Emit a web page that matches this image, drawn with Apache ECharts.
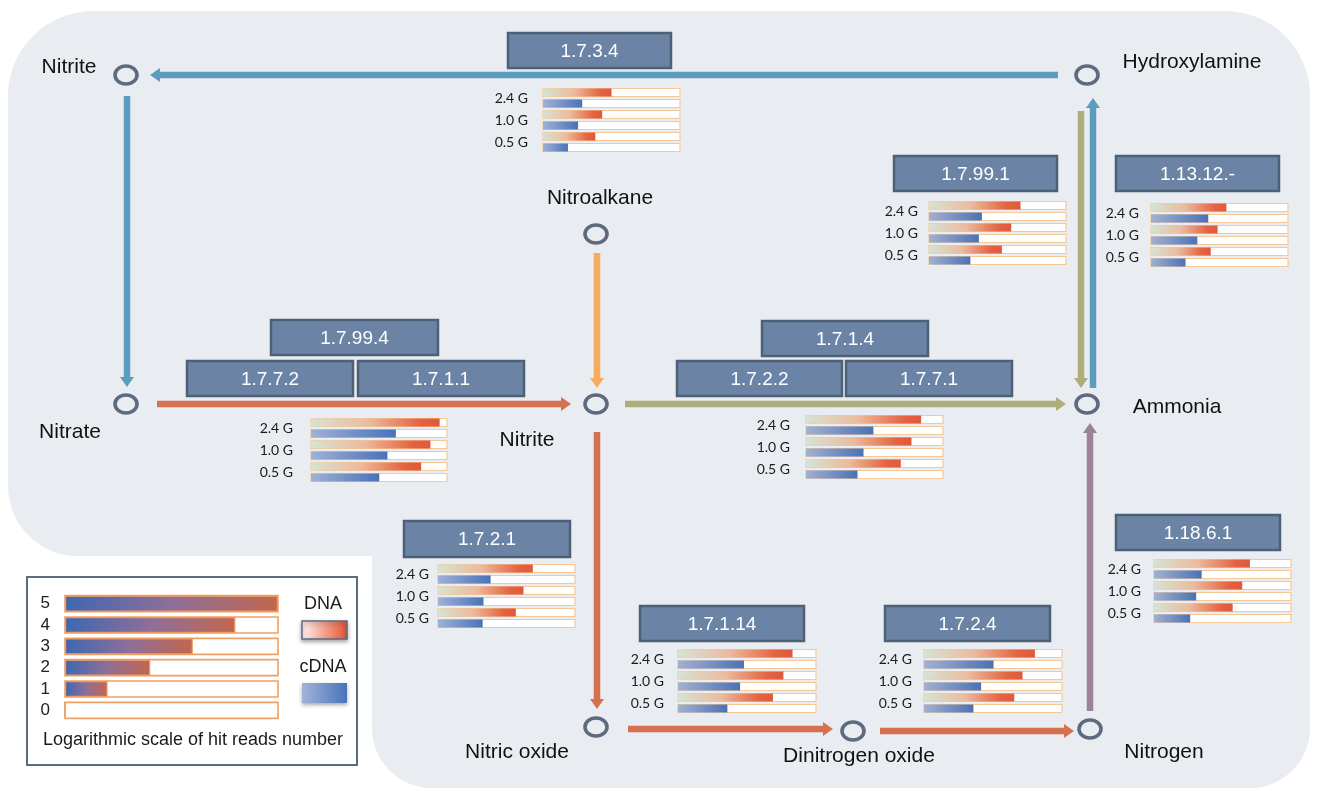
<!DOCTYPE html>
<html>
<head>
<meta charset="utf-8">
<script src="https://cdn.jsdelivr.net/npm/echarts@6/dist/echarts.min.js"></script>
<style>
html,body{margin:0;padding:0;background:#fff;}
#chart{width:1318px;height:789px;}
</style>
</head>
<body>
<div id="chart"></div>
<script>
// ---- data ----
const rowLabels = ['2.4 G', '1.0 G', '0.5 G'];
// 1.7.3.4  Hydroxylamine -> Nitrite
const dna_1_7_3_4 = [2.50, 2.16, 1.91];
const cdna_1_7_3_4 = [1.43, 1.28, 0.91];
// 1.7.99.4 / 1.7.7.2 / 1.7.1.1  Nitrate -> Nitrite
const dna_nitrate = [4.73, 4.39, 4.05];
const cdna_nitrate = [3.12, 2.81, 2.51];
// 1.7.1.4 / 1.7.2.2 / 1.7.7.1  Nitrite -> Ammonia
const dna_ammonia = [4.20, 3.85, 3.46];
const cdna_ammonia = [2.46, 2.10, 1.88];
// 1.7.99.1
const dna_1_7_99_1 = [3.34, 3.00, 2.66];
const cdna_1_7_99_1 = [1.93, 1.82, 1.51];
// 1.13.12.-
const dna_1_13_12 = [2.75, 2.43, 2.18];
const cdna_1_13_12 = [2.09, 1.69, 1.26];
// 1.7.2.1
const dna_1_7_2_1 = [3.46, 3.12, 2.84];
const cdna_1_7_2_1 = [1.92, 1.66, 1.63];
// 1.7.1.14
const dna_1_7_1_14 = [4.15, 3.82, 3.44];
const cdna_1_7_1_14 = [2.39, 2.25, 1.79];
// 1.7.2.4
const dna_1_7_2_4 = [4.02, 3.57, 3.27];
const cdna_1_7_2_4 = [2.52, 2.07, 1.79];
// 1.18.6.1
const dna_1_18_6_1 = [3.50, 3.22, 2.87];
const cdna_1_18_6_1 = [1.74, 1.54, 1.32];
// legend scale
const scaleLabels = ['5', '4', '3', '2', '1', '0'];
const scaleValues = [5, 4, 3, 2, 1, 0];

const enzymeLabels = ['1.7.3.4','1.7.99.4','1.7.7.2','1.7.1.1','1.7.1.4','1.7.2.2','1.7.7.1','1.7.99.1','1.13.12.-','1.7.2.1','1.7.1.14','1.7.2.4','1.18.6.1'];
const compoundLabels = ['Nitrite','Hydroxylamine','Nitroalkane','Nitrate','Nitrite','Ammonia','Nitric oxide','Dinitrogen oxide','Nitrogen'];

// ---- layout (positions/styles) ----
const panelData = [
  [dna_1_7_3_4, cdna_1_7_3_4],
  [dna_nitrate, cdna_nitrate],
  [dna_ammonia, cdna_ammonia],
  [dna_1_7_99_1, cdna_1_7_99_1],
  [dna_1_13_12, cdna_1_13_12],
  [dna_1_7_2_1, cdna_1_7_2_1],
  [dna_1_7_1_14, cdna_1_7_1_14],
  [dna_1_7_2_4, cdna_1_7_2_4],
  [dna_1_18_6_1, cdna_1_18_6_1]
];
const panelBoxes = [
  [543, 87, 137, 66, 15],
  [311, 417, 136, 66, 18],
  [806, 414, 137, 66, 16],
  [929, 200, 137, 66, 11],
  [1151, 202, 137, 66, 12],
  [438, 563, 137, 66, 9],
  [678, 648, 138, 66, 14],
  [924, 648, 138, 66, 12],
  [1154, 558, 137, 66, 13]
];
const enzymeBoxes = [
  [508, 33, 163, 35], [271, 320, 167, 35], [187, 361, 166, 35], [358, 361, 166, 35],
  [762, 321, 166, 35], [677, 361, 165, 35], [846, 361, 166, 35],
  [894, 156, 163, 35], [1116, 156, 163, 35],
  [404, 521, 166, 36], [640, 606, 164, 35], [885, 606, 165, 35], [1116, 515, 164, 35]
];
const nodePos = [[126,75],[1087,75],[596,234],[126,404],[596,404],[1087,404],[596,727],[853,731],[1090,729]];
const labelPos = [[69,67],[1192,62],[600,198],[70,432],[527,440],[1177,407],[517,752],[859,756],[1164,752]];
const BLUE = '#5b9dbe', RED = '#d6714f', ORANGE = '#f6ab5f', OLIVE = '#adae7b', PURPLE = '#9e8199';
const arrows = [
  [1058,75,150,75,BLUE],
  [127,96,127,387,BLUE],
  [157,404,571,404,RED],
  [597,253,597,388,ORANGE],
  [625,404,1066,404,OLIVE],
  [1081,111,1081,388,OLIVE],
  [1093,388,1093,98,BLUE],
  [597,432,597,709,RED],
  [628,729,833,729,RED],
  [880,731,1074,731,RED],
  [1090,711,1090,423,PURPLE]
];

const chart = echarts.init(document.getElementById('chart'), null, {renderer: 'canvas'});
const LG = echarts.graphic.LinearGradient;
const dnaGrad = () => new LG(0,0,1,0,[{offset:0,color:'#d6e3d3'},{offset:0.45,color:'#ebbb9e'},{offset:0.85,color:'#e4633f'},{offset:1,color:'#e1583a'}]);
const cdnaGrad = () => new LG(0,0,1,0,[{offset:0,color:'#9fb1d5'},{offset:1,color:'#4a72b8'}]);
const scaleGrad = () => new LG(0,0,1,0,[{offset:0,color:'#3e67b3'},{offset:0.5,color:'#8d6f9a'},{offset:1,color:'#c3664e'}]);

const grid = [], xAxis = [], yAxis = [], series = [];
panelBoxes.forEach((b, i) => {
  grid.push({left: b[0], top: b[1], width: b[2], height: b[3], containLabel: false});
  xAxis.push({gridIndex: i, type: 'value', min: 0, max: 5, show: false});
  yAxis.push({gridIndex: i, type: 'category', data: rowLabels, inverse: true,
    axisLine: {show: false}, axisTick: {show: false}, splitLine: {show: false},
    axisLabel: {interval: 0, margin: b[4], fontSize: 14, color: '#1a1a1a', fontFamily: 'Lato'}});
  const bg = {color: '#ffffff', borderColor: '#f6c896', borderWidth: 1.2};
  series.push({type: 'bar', xAxisIndex: i, yAxisIndex: i, data: panelData[i][0], barWidth: 8, barGap: '38%',
    showBackground: true, backgroundStyle: bg, itemStyle: {color: dnaGrad()}, silent: true, animation: false});
  series.push({type: 'bar', xAxisIndex: i, yAxisIndex: i, data: panelData[i][1], barWidth: 8, barGap: '38%',
    showBackground: true, backgroundStyle: bg, itemStyle: {color: cdnaGrad()}, silent: true, animation: false});
});
// legend scale grid
const li = panelBoxes.length;
grid.push({left: 65, top: 593, width: 213, height: 128});
xAxis.push({gridIndex: li, type: 'value', min: 0, max: 5, show: false});
yAxis.push({gridIndex: li, type: 'category', data: scaleLabels, inverse: true,
  axisLine: {show: false}, axisTick: {show: false}, splitLine: {show: false},
  axisLabel: {interval: 0, margin: 15, fontSize: 17, color: '#222', fontFamily: 'Liberation Sans'}});
series.push({type: 'bar', xAxisIndex: li, yAxisIndex: li, data: scaleValues, barWidth: 16,
  showBackground: true, backgroundStyle: {color: '#fff', borderColor: '#f0a062', borderWidth: 1.6},
  itemStyle: {color: scaleGrad(), borderColor: '#ef9a58', borderWidth: 1.2}, silent: true, animation: false});

// ---- graphic ----
const g = [];
const BG = '#e9ecf0';
g.push({type: 'rect', z: -10, shape: {x: 8, y: 11, width: 1302, height: 545, r: [85, 85, 0, 70]}, style: {fill: BG}});
g.push({type: 'rect', z: -10, shape: {x: 372, y: 300, width: 938, height: 488, r: [0, 0, 60, 60]}, style: {fill: BG}});
// legend box
g.push({type: 'rect', z: 0, shape: {x: 27, y: 577, width: 330, height: 188}, style: {fill: '#fff', stroke: '#5e6b80', lineWidth: 2}});
g.push({type: 'text', z: 1, x: 193, y: 740, style: {text: 'Logarithmic scale of hit reads number', font: '18px "Liberation Sans"', fill: '#1a1a1a', textAlign: 'center', textVerticalAlign: 'middle'}});
g.push({type: 'text', z: 1, x: 323, y: 604, style: {text: 'DNA', font: '18px "Liberation Sans"', fill: '#1a1a1a', textAlign: 'center', textVerticalAlign: 'middle'}});
g.push({type: 'text', z: 1, x: 323, y: 667, style: {text: 'cDNA', font: '18px "Liberation Sans"', fill: '#1a1a1a', textAlign: 'center', textVerticalAlign: 'middle'}});
g.push({type: 'rect', z: 1, shape: {x: 302, y: 621, width: 45, height: 18},
  style: {fill: new LG(0,0,1,0,[{offset:0,color:'#fff3ee'},{offset:1,color:'#e8502f'}]), stroke: '#5e6b80', lineWidth: 1.5, shadowBlur: 4, shadowColor: 'rgba(0,0,0,0.35)', shadowOffsetY: 2}});
g.push({type: 'rect', z: 1, shape: {x: 302, y: 683, width: 45, height: 20},
  style: {fill: new LG(0,0,1,0,[{offset:0,color:'#a1b4d9'},{offset:1,color:'#4873b9'}]), shadowBlur: 4, shadowColor: 'rgba(0,0,0,0.35)', shadowOffsetY: 2}});
// arrows
arrows.forEach(a => {
  const [x1, y1, x2, y2, c] = a;
  const dx = x2 - x1, dy = y2 - y1, L = Math.hypot(dx, dy);
  const ux = dx / L, uy = dy / L, hl = 10, hw = 7;
  const bx = x2 - ux * hl, by = y2 - uy * hl;
  g.push({type: 'line', z: 1, shape: {x1: x1, y1: y1, x2: bx + ux * 1, y2: by + uy * 1}, style: {stroke: c, lineWidth: 6.5}});
  g.push({type: 'polygon', z: 1, shape: {points: [[x2, y2], [bx - uy * hw, by + ux * hw], [bx + uy * hw, by - ux * hw]]}, style: {fill: c}});
});
// nodes
nodePos.forEach(p => {
  g.push({type: 'ellipse', z: 2, shape: {cx: p[0], cy: p[1], rx: 11, ry: 9}, style: {fill: 'none', stroke: '#5d6a80', lineWidth: 3.6}});
});
compoundLabels.forEach((t, i) => {
  g.push({type: 'text', z: 2, x: labelPos[i][0], y: labelPos[i][1], style: {text: t, font: '21px "Liberation Sans"', fill: '#111', textAlign: 'center', textVerticalAlign: 'middle'}});
});
// enzyme boxes
enzymeLabels.forEach((t, i) => {
  const b = enzymeBoxes[i];
  g.push({type: 'rect', z: 3, shape: {x: b[0], y: b[1], width: b[2], height: b[3]}, style: {fill: '#6b84a5', stroke: '#4e5f78', lineWidth: 2.5}});
  g.push({type: 'text', z: 4, x: b[0] + b[2] / 2, y: b[1] + b[3] / 2 + 1, style: {text: t, font: '19px "Liberation Sans"', fill: '#ffffff', textAlign: 'center', textVerticalAlign: 'middle'}});
});

chart.setOption({
  animation: false,
  backgroundColor: '#ffffff',
  grid, xAxis, yAxis, series,
  graphic: {elements: g}
});
</script>
</body>
</html>
